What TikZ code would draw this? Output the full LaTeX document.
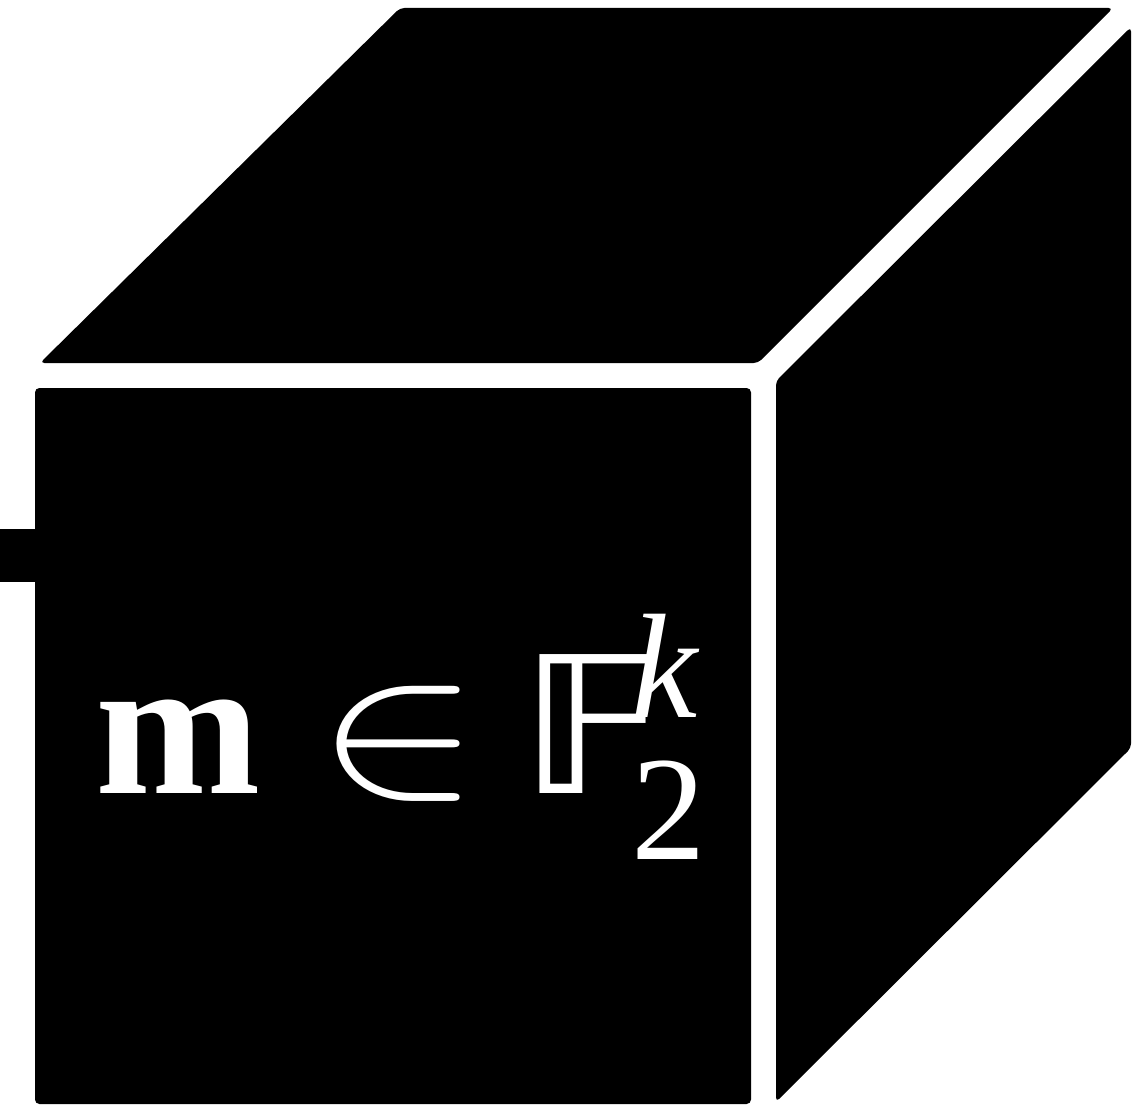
\documentclass[tikz,border=0pt]{standalone}
\usepackage{graphicx}
\usepackage{fontspec}
\setmainfont{Liberation Serif}
\newfontfamily\bbfont{DejaVu Sans}
\newcommand{\scripttext}{\fontsize{7.5}{9}\selectfont}
\usetikzlibrary{positioning}

\begin{document}
\begin{tikzpicture}[
    x=0.02cm, y=-0.02cm,
    face/.style={fill=black, rounded corners=2.5pt},
    port/.style={fill=black},
    msgtext/.style={text=white, inner sep=0pt, scale=11.3}
  ]
  \useasboundingbox (0,0) rectangle (1133,1105);

  % top, right and front faces of the box
  \fill[face] (40,363) -- (400,8) -- (1113,8) -- (758,363) -- cycle;
  \fill[face] (776,381) -- (1131,27) -- (1131,748) -- (776,1102) -- cycle;
  \fill[face] (35,388) rectangle (751,1104);
  \fill[port] (0,529) rectangle (36,582);

  % message m in F_2^k
  \node[msgtext, anchor=base west] (msg) at (92,793)
    {$\mathbf{m}\mathrel{\scalebox{1.24}[1]{$\in$}}\mkern-1.6mu\mbox{\scalebox{1.1}[0.96]{\bbfont 𝔽}}$\hspace{-0.17em}\rlap{\raisebox{0.382em}{\scripttext\itshape k}}\raisebox{-0.337em}{\scripttext 2}};
\end{tikzpicture}
\end{document}
